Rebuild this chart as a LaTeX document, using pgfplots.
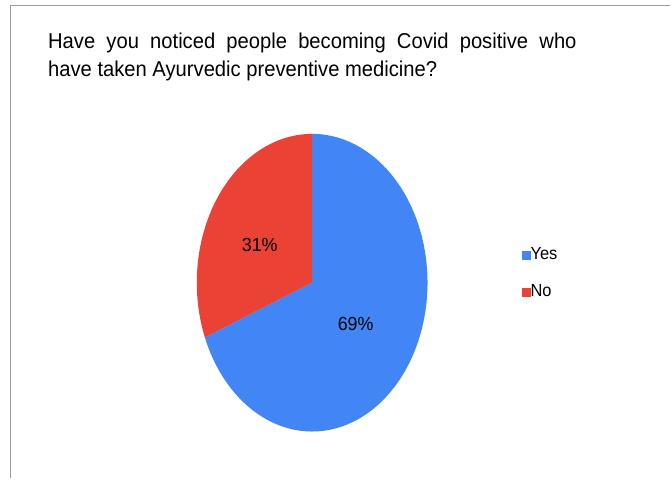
\documentclass[border=0pt]{standalone}
\usepackage{fontspec}
\setmainfont{Liberation Sans}
\newfontfamily\cond[FakeStretch=0.94]{Liberation Sans}
\usepackage{pgfplots}
\pgfplotsset{compat=1.18}
\definecolor{yesblue}{HTML}{4285F4}
\definecolor{nored}{HTML}{EA4335}
\definecolor{frame}{RGB}{155,155,155}

% pie geometry in pixel units of the picture
\def\cx{312.5}
\def\cy{283}
\def\rx{115.5}
\def\ry{149}

\begin{document}
\begin{tikzpicture}
\begin{axis}[
    scale only axis,
    width=671bp, height=479bp,
    xmin=0, xmax=671, ymin=0, ymax=479,
    y dir=reverse,
    hide axis,
    clip=false,
    legend style={
        draw=none, fill=none,
        at={(axis cs:519,245)}, anchor=north west,
        font=\cond\fontsize{17.5bp}{20bp}\selectfont,
        row sep=20bp,
        nodes={inner sep=0pt, text height=13bp, text depth=4bp},
        /tikz/every even column/.append style={column sep=2bp},
    },
    legend cell align=left,
    legend image code/.code={\fill[#1] (0bp,-4.5bp) rectangle (9bp,4.5bp);},
]
% invisible frame so the page is exactly the axis area
\path (axis cs:0,0) rectangle (axis cs:671,479);
% Yes: 69 %, clockwise from the top
\addplot[fill=yesblue, draw=none, domain=0:69, samples=140, variable=\t]
    ({\cx+\rx*sin(3.6*\t)}, {\cy-\ry*cos(3.6*\t)}) -- (axis cs:\cx,\cy) -- cycle;
\addlegendentry{Yes}
% No: 31 %
\addplot[fill=nored, draw=none, domain=69:100, samples=70, variable=\t]
    ({\cx+\rx*sin(3.6*\t)}, {\cy-\ry*cos(3.6*\t)}) -- (axis cs:\cx,\cy) -- cycle;
\addlegendentry{No}

\node[font=\cond\fontsize{19bp}{22bp}\selectfont] at (axis cs:260,245) {31\%};
\node[font=\cond\fontsize{19bp}{22bp}\selectfont] at (axis cs:356,324) {69\%};

\node[anchor=base west, inner sep=0pt, font=\cond\fontsize{21.5bp}{26bp}\selectfont]
    at (axis cs:48,49) {\hbox to 529bp{Have\hfill you\hfill noticed\hfill people\hfill becoming\hfill Covid\hfill positive\hfill who}};
\node[anchor=base west, inner sep=0pt, font=\cond\fontsize{21.5bp}{26bp}\selectfont]
    at (axis cs:48,77) {have taken Ayurvedic preventive medicine?};

\draw[frame, line width=1.5bp] (axis cs:10.5,479) -- (axis cs:10.5,5.5) -- (axis cs:671,5.5);
\end{axis}
\end{tikzpicture}
\end{document}
